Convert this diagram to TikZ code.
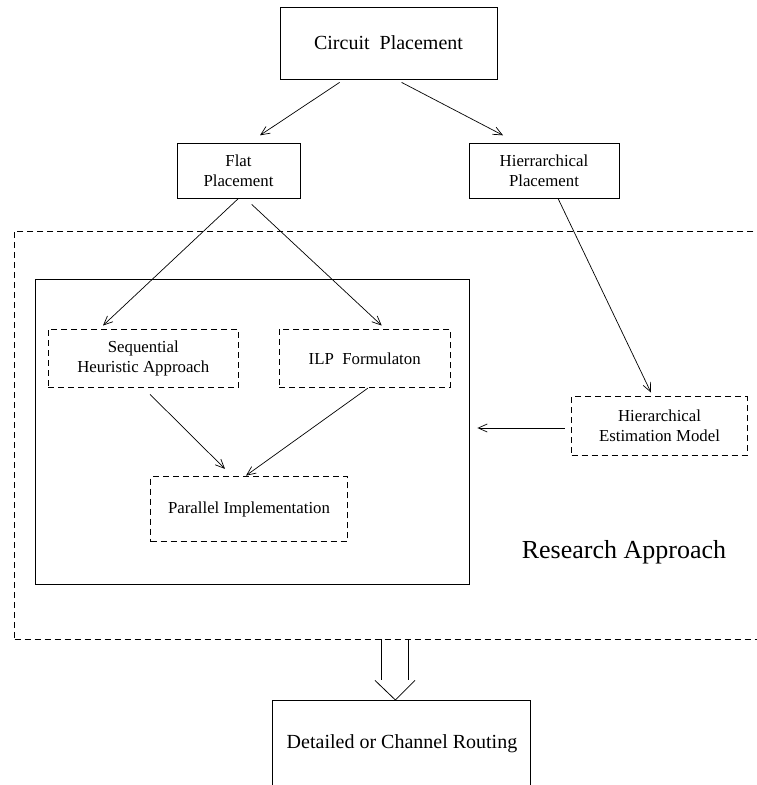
\documentclass[tikz,border=0pt]{standalone}
\usepackage{fontspec}
\setmainfont{Liberation Serif}
\usetikzlibrary{arrows.meta,calc}
\tikzset{
  solidbox/.style={draw, line width=0.8pt, inner sep=0pt, align=center},
  dashbox/.style={draw, dash pattern=on 6pt off 4pt, line width=0.8pt, inner sep=0pt, align=center},
  link/.style={-{Straight Barb[length=9pt,width=8pt]}, line width=0.7pt},
  smalltext/.style={font=\fontsize{16.8}{20.5}\selectfont},
  midtext/.style={font=\fontsize{20}{24}\selectfont},
  bigtext/.style={font=\fontsize{26}{30}\selectfont},
}
\begin{document}
\begin{tikzpicture}[x=1pt,y=-1pt]
  \useasboundingbox (0,0) rectangle (757,785);
  \clip (0,0) rectangle (757,785);

  % top level
  \node[solidbox, midtext, minimum width=217pt, minimum height=72pt] (circ) at (388.5,43) {Circuit\ \ Placement};
  \node[solidbox, smalltext, minimum width=123pt, minimum height=55pt] (flat) at (238.5,170.5) {Flat\\Placement};
  \node[solidbox, smalltext, minimum width=150pt, minimum height=55pt] (hier) at (544,170.5) {Hierrarchical\\Placement};

  % research region
  \node[dashbox, minimum width=785.3pt, minimum height=408pt] (outer) at (407.35,435) {};
  \node[solidbox, minimum width=434.5pt, minimum height=305pt] (inner) at (252.25,431.5) {};
  \node[dashbox, smalltext, minimum width=190pt, minimum height=58.7pt] (seq) at (143.3,358.3) {Sequential\\Heuristic Approach};
  \node[dashbox, smalltext, minimum width=170.7pt, minimum height=58.7pt] (ilp) at (364.7,358.3) {ILP\ \ Formulaton};
  \node[dashbox, smalltext, minimum width=196.6pt, minimum height=65pt] (par) at (249,509.2) {Parallel Implementation};
  \node[dashbox, smalltext, minimum width=175.6pt, minimum height=58.3pt] (hest) at (659.5,425.8) {Hierarchical\\Estimation Model};
  \node[bigtext, anchor=base] (ratext) at (624,558) {Research Approach};

  % routing box, open at the bottom
  \coordinate (rbl) at (272.7,800);
  \coordinate (rtl) at (272.7,700);
  \coordinate (rtr) at (530.7,700);
  \coordinate (rbr) at (530.7,800);
  \draw[line width=0.8pt] (rbl) -- (rtl) -- (rtr) -- (rbr);
  \node[midtext, anchor=base] (route) at (402,748) {Detailed or Channel Routing};

  % connectors
  \draw[link] ($(circ.south west)+(60,3)$) -- ($(flat.north)+(21.5,-7.3)$);
  \draw[link] ($(circ.south west)+(122,3)$) -- ($(hier.north)+(-41,-7.3)$);
  \draw[link] (flat.south) -- ($(seq.north)+(-40.3,-3)$);
  \draw[link] ($(flat.south)+(13.2,6)$) -- ($(ilp.north)+(17,-3)$);
  \draw[link] ($(hier.south)+(14,0)$) -- ($(hest.north)+(-8.5,-3.7)$);
  \draw[link] ($(seq.south)+(6.7,6.3)$) -- ($(par.north)+(-24,-7.4)$);
  \draw[link] ($(ilp.south)+(3.3,0)$) -- ($(par.north)+(-3,-0.7)$);
  \draw[link] ($(hest.west)+(-6.7,2.2)$) -- ($(inner.east)+(7.5,-3.5)$);

  % hollow arrow into the routing box
  \coordinate (dtop) at ($(outer.south)+(-12.35,0)$);
  \coordinate (apex) at ($(rtl)!0.4756!(rtr)$);
  \draw[line width=0.8pt] ($(dtop)+(-13.3,0)$) -- ++(0,41);
  \draw[line width=0.8pt] ($(dtop)+(13.3,0)$) -- ++(0,41);
  \draw[line width=0.8pt] ($(dtop)+(-20,41)$) -- (apex) -- ($(dtop)+(20,41)$);
\end{tikzpicture}
\end{document}
